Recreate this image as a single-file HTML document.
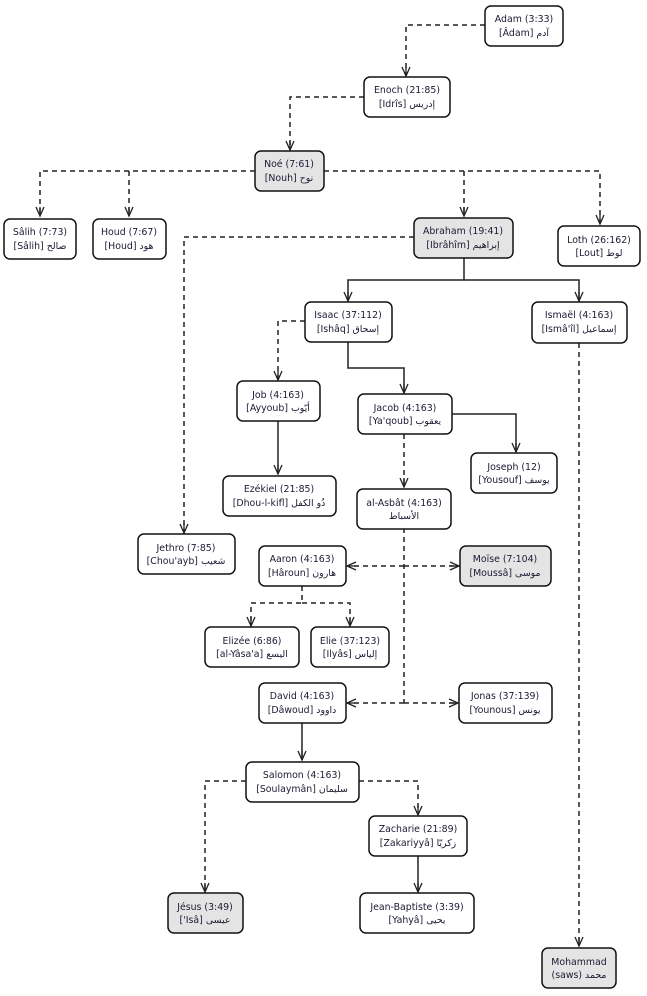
<!DOCTYPE html>
<html><head><meta charset="utf-8"><style>
html,body{margin:0;padding:0;background:#fff;}
svg{display:block}
text{font-family:"DejaVu Sans","Liberation Sans",sans-serif;font-size:9.4px;fill:#1a1a33;}
.b{fill:#fff;stroke:#111;stroke-width:1.5}
.g{fill:#e4e4e4;stroke:#111;stroke-width:1.5}
.d{fill:none;stroke:#222;stroke-width:1.5;stroke-dasharray:5,4}
.s{fill:none;stroke:#222;stroke-width:1.5}
</style></head><body>
<svg width="647" height="996" viewBox="0 0 647 996" xmlns="http://www.w3.org/2000/svg">
<defs>
<marker id="a" markerWidth="12" markerHeight="12" refX="10" refY="5" orient="auto" markerUnits="userSpaceOnUse">
<path d="M1,1 L10,5 L1,9 M1,5 L10,5" fill="none" stroke="#222" stroke-width="1.3"/>
</marker>
</defs>
<path class="d" d="M485,25 H406 V76" marker-end="url(#a)"/>
<path class="d" d="M364,97 H290 V150" marker-end="url(#a)"/>
<path class="d" d="M255,171 H40 V216" marker-end="url(#a)"/>
<path class="d" d="M129,171 V216" marker-end="url(#a)"/>
<path class="d" d="M324,171 H600 V224" marker-end="url(#a)"/>
<path class="d" d="M464,171 V216" marker-end="url(#a)"/>
<path class="d" d="M414,237 H184 V533" marker-end="url(#a)"/>
<path class="s" d="M464,258 V280 H348 V301" marker-end="url(#a)"/>
<path class="s" d="M464,280 H579 V301" marker-end="url(#a)"/>
<path class="d" d="M305,321 H278 V380" marker-end="url(#a)"/>
<path class="s" d="M348,342 V368 H404 V393" marker-end="url(#a)"/>
<path class="d" d="M579,343 V946" marker-end="url(#a)"/>
<path class="s" d="M278,421 V474" marker-end="url(#a)"/>
<path class="s" d="M452,414 H516 V452" marker-end="url(#a)"/>
<path class="d" d="M404,434 V487" marker-end="url(#a)"/>
<path class="d" d="M404,528 V703"/>
<path class="d" d="M404,566 H347" marker-end="url(#a)"/>
<path class="d" d="M404,566 H459" marker-end="url(#a)"/>
<path class="d" d="M404,703 H347" marker-end="url(#a)"/>
<path class="d" d="M404,703 H458" marker-end="url(#a)"/>
<path class="d" d="M302,586 V603 H251 V626" marker-end="url(#a)"/>
<path class="d" d="M302,603 H350 V626" marker-end="url(#a)"/>
<path class="s" d="M302,723 V760" marker-end="url(#a)"/>
<path class="d" d="M246,781 H205 V892" marker-end="url(#a)"/>
<path class="d" d="M359,781 H418 V815" marker-end="url(#a)"/>
<path class="s" d="M418,856 V892" marker-end="url(#a)"/>
<g text-anchor="middle">
<rect class="b" x="485" y="6" width="78" height="40" rx="6"/><text x="524" y="22">Adam (3:33)</text><text x="524" y="36">[Âdam] آدم</text>
<rect class="b" x="364" y="77" width="86" height="40" rx="6"/><text x="407" y="93">Enoch (21:85)</text><text x="407" y="107">[Idrîs] إدريس</text>
<rect class="g" x="255" y="151" width="69" height="40" rx="6"/><text x="289" y="167">Noé (7:61)</text><text x="289" y="181">[Nouh] نوح</text>
<rect class="b" x="4" y="219" width="72" height="40" rx="6"/><text x="40" y="235">Sâlih (7:73)</text><text x="40" y="249">[Sâlih] صالح</text>
<rect class="b" x="93" y="219" width="73" height="40" rx="6"/><text x="129" y="235">Houd (7:67)</text><text x="129" y="249">[Houd] هود</text>
<rect class="g" x="414" y="218" width="99" height="40" rx="6"/><text x="463" y="234">Abraham (19:41)</text><text x="463" y="248">[Ibrâhîm] إبراهيم</text>
<rect class="b" x="558" y="226" width="82" height="40" rx="6"/><text x="599" y="243">Loth (26:162)</text><text x="599" y="256">[Lout] لوط</text>
<rect class="b" x="305" y="302" width="87" height="40" rx="6"/><text x="348" y="318">Isaac (37:112)</text><text x="348" y="332">[Ishâq] إسحاق</text>
<rect class="b" x="532" y="302" width="95" height="41" rx="6"/><text x="579" y="318">Ismaël (4:163)</text><text x="579" y="332">[Ismâ'îl] إسماعيل</text>
<rect class="b" x="237" y="381" width="83" height="40" rx="6"/><text x="278" y="398">Job (4:163)</text><text x="278" y="411">[Ayyoub] أيّوب</text>
<rect class="b" x="358" y="394" width="94" height="40" rx="6"/><text x="405" y="411">Jacob (4:163)</text><text x="405" y="424">[Ya'qoub] يعقوب</text>
<rect class="b" x="471" y="453" width="86" height="40" rx="6"/><text x="514" y="470">Joseph (12)</text><text x="514" y="483">[Yousouf] يوسف</text>
<rect class="b" x="223" y="476" width="113" height="40" rx="6"/><text x="279" y="492">Ezékiel (21:85)</text><text x="279" y="506">[Dhou-l-kifl] ذُو الكفل</text>
<rect class="b" x="357" y="489" width="94" height="40" rx="6"/><text x="404" y="506">al-Asbât (4:163)</text><text x="404" y="519">الأسباط</text>
<rect class="b" x="138" y="534" width="97" height="40" rx="6"/><text x="186" y="551">Jethro (7:85)</text><text x="186" y="564">[Chou'ayb] شعيب</text>
<rect class="b" x="259" y="546" width="87" height="40" rx="6"/><text x="302" y="562">Aaron (4:163)</text><text x="302" y="576">[Hâroun] هارون</text>
<rect class="g" x="460" y="546" width="91" height="40" rx="6"/><text x="505" y="562">Moïse (7:104)</text><text x="505" y="576">[Moussâ] موسى</text>
<rect class="b" x="205" y="627" width="94" height="40" rx="6"/><text x="252" y="644">Elizée (6:86)</text><text x="252" y="657">[al-Yâsa'a] اليسع</text>
<rect class="b" x="311" y="627" width="78" height="40" rx="6"/><text x="350" y="644">Elie (37:123)</text><text x="350" y="657">[Ilyâs] إلياس</text>
<rect class="b" x="259" y="683" width="87" height="40" rx="6"/><text x="302" y="699">David (4:163)</text><text x="302" y="713">[Dâwoud] داوود</text>
<rect class="b" x="459" y="683" width="93" height="40" rx="6"/><text x="505" y="699">Jonas (37:139)</text><text x="505" y="713">[Younous] يونس</text>
<rect class="b" x="246" y="762" width="113" height="40" rx="6"/><text x="302" y="778">Salomon (4:163)</text><text x="302" y="792">[Soulaymân] سليمان</text>
<rect class="b" x="369" y="816" width="98" height="40" rx="6"/><text x="418" y="832">Zacharie (21:89)</text><text x="418" y="846">[Zakariyyâ] زكريّا</text>
<rect class="g" x="168" y="893" width="75" height="40" rx="6"/><text x="205" y="910">Jésus (3:49)</text><text x="205" y="923">['Isâ] عيسى</text>
<rect class="b" x="360" y="893" width="114" height="40" rx="6"/><text x="417" y="910">Jean-Baptiste (3:39)</text><text x="417" y="923">[Yahyâ] يحيى</text>
<rect class="g" x="542" y="948" width="74" height="40" rx="6"/><text x="579" y="965">Mohammad</text><text x="579" y="978">(saws) محمد</text>
</g>
</svg>
</body></html>
